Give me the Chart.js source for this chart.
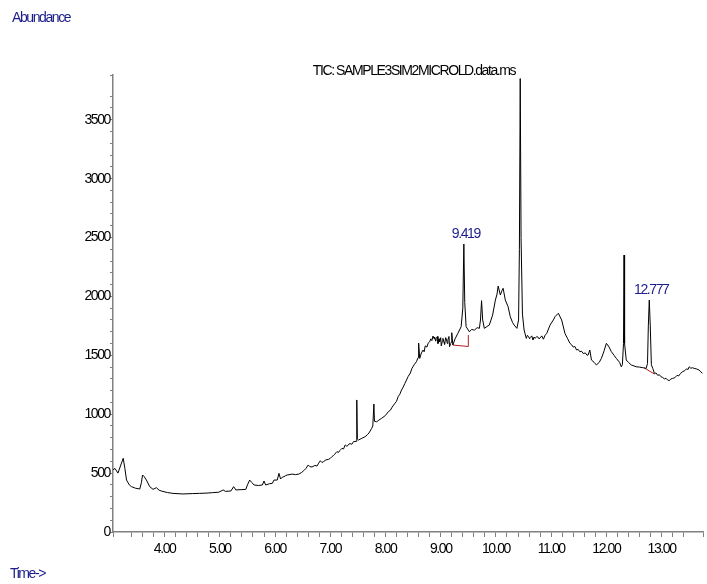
<!DOCTYPE html>
<html>
<head>
<meta charset="utf-8">
<script src="https://cdn.jsdelivr.net/npm/chart.js@4.4.0/dist/chart.umd.min.js"></script>
<style>
  html, body { margin: 0; padding: 0; background: #fff; }
  canvas { display: block; }
</style>
</head>
<body>
<canvas id="grafico" width="707" height="584"></canvas>
<script>
// retention time (min) and abundance, 8 per row
const tempos = [
  3.065, 3.10, 3.155, 3.20, 3.25, 3.28, 3.31, 3.36,
  3.40, 3.47, 3.55, 3.58, 3.60, 3.63, 3.67, 3.73,
  3.79, 3.85, 3.90, 3.94, 4.05, 4.15, 4.33, 4.50,
  4.63, 4.75, 4.87, 4.98, 5.04, 5.06, 5.10, 5.20,
  5.25, 5.29, 5.40, 5.47, 5.50, 5.54, 5.58, 5.62,
  5.70, 5.77, 5.80, 5.83, 5.90, 5.95, 5.98, 6.04,
  6.07, 6.10, 6.13, 6.16, 6.19, 6.22, 6.27, 6.31,
  6.37, 6.43, 6.48, 6.52, 6.56, 6.60, 6.63, 6.67,
  6.72, 6.76, 6.79, 6.82, 6.85, 6.88, 6.92, 6.97,
  7.00, 7.03, 7.06, 7.08, 7.10, 7.12, 7.15, 7.17,
  7.19, 7.21, 7.24, 7.27, 7.30, 7.32, 7.34, 7.36,
  7.39, 7.42, 7.47, 7.48, 7.49, 7.51, 7.57, 7.63,
  7.67, 7.70, 7.75, 7.77, 7.79, 7.80, 7.84, 7.88,
  7.93, 8.00, 8.05, 8.09, 8.12, 8.17, 8.20, 8.23,
  8.26, 8.29, 8.32, 8.35, 8.38, 8.41, 8.45, 8.48,
  8.52, 8.56, 8.59, 8.60, 8.62, 8.65, 8.68, 8.70,
  8.72, 8.75, 8.77, 8.80, 8.82, 8.84, 8.86, 8.88,
  8.89, 8.91, 8.92, 8.94, 8.95, 8.97, 8.98, 9.00,
  9.01, 9.03, 9.04, 9.06, 9.07, 9.09, 9.10, 9.12,
  9.13, 9.15, 9.16, 9.18, 9.19, 9.20, 9.22, 9.26,
  9.31, 9.37, 9.40, 9.419, 9.435, 9.46, 9.52, 9.56,
  9.61, 9.66, 9.70, 9.72, 9.74, 9.76, 9.79, 9.84,
  9.88, 9.94, 9.99, 10.02, 10.04, 10.08, 10.11, 10.13,
  10.17, 10.22, 10.26, 10.30, 10.33, 10.38, 10.41, 10.425,
  10.44, 10.455, 10.48, 10.51, 10.55, 10.57, 10.59, 10.61,
  10.62, 10.65, 10.67, 10.69, 10.71, 10.74, 10.76, 10.78,
  10.80, 10.83, 10.86, 10.89, 10.92, 10.98, 11.04, 11.07,
  11.13, 11.19, 11.25, 11.30, 11.34, 11.37, 11.40, 11.43,
  11.46, 11.49, 11.52, 11.55, 11.58, 11.62, 11.65, 11.67,
  11.70, 11.73, 11.78, 11.82, 11.87, 11.91, 11.96, 12.00,
  12.05, 12.09, 12.14, 12.18, 12.24, 12.27, 12.29, 12.31,
  12.32, 12.33, 12.36, 12.40, 12.45, 12.50, 12.54, 12.60,
  12.66, 12.72, 12.745, 12.76, 12.777, 12.795, 12.815, 12.84,
  12.87, 12.90, 12.93, 12.96, 12.99, 13.02, 13.05, 13.08,
  13.11, 13.14, 13.17, 13.20, 13.24, 13.28, 13.31, 13.34,
  13.38, 13.42, 13.45, 13.48, 13.50, 13.53, 13.56, 13.59,
  13.63, 13.68, 13.71, 13.74
];
const abundancia = [
  526, 540, 500, 560, 626, 540, 441, 400,
  385, 372, 365, 420, 484, 470, 441, 385,
  362, 376, 355, 348, 335, 328, 323, 326,
  328, 330, 334, 338, 352, 357, 345, 348,
  385, 357, 360, 362, 400, 441, 420, 399,
  395, 399, 433, 399, 410, 413, 441, 441,
  498, 450, 465, 470, 478, 484, 488, 492,
  487, 492, 505, 521, 540, 569, 555, 552,
  565, 560, 585, 605, 590, 598, 612, 617,
  625, 640, 650, 660, 672, 682, 676, 690,
  700, 710, 705, 739, 728, 735, 748, 750,
  745, 767, 770, 1121, 790, 781, 795, 809,
  825, 840, 880, 900, 1087, 940, 936, 950,
  965, 990, 1021, 1035, 1060, 1092, 1110, 1150,
  1170, 1205, 1230, 1260, 1290, 1320, 1350, 1390,
  1420, 1446, 1480, 1604, 1474, 1520, 1545, 1530,
  1580, 1570, 1602, 1615, 1640, 1625, 1664, 1640,
  1655, 1620, 1644, 1660, 1600, 1640, 1615, 1650,
  1580, 1620, 1644, 1610, 1593, 1650, 1640, 1600,
  1630, 1660, 1573, 1600, 1610, 1692, 1587, 1640,
  1686, 1743, 1900, 2445, 1950, 1743, 1700, 1720,
  1714, 1735, 1729, 1800, 1964, 1800, 1729, 1745,
  1757, 1842, 1969, 2020, 2088, 2012, 2050, 2069,
  1969, 1913, 1828, 1780, 1757, 1729, 1800, 2400,
  3850, 2500, 1850, 1715, 1644, 1670, 1660, 1640,
  1650, 1665, 1630, 1655, 1644, 1660, 1655, 1640,
  1648, 1665, 1637, 1670, 1686, 1757, 1800, 1828,
  1857, 1800, 1686, 1640, 1602, 1590, 1570, 1575,
  1545, 1550, 1530, 1535, 1516, 1520, 1500, 1503,
  1545, 1460, 1440, 1418, 1440, 1474, 1540, 1602,
  1570, 1531, 1500, 1474, 1440, 1403, 1420, 1600,
  2351, 1600, 1460, 1440, 1418, 1410, 1403, 1400,
  1395, 1389, 1430, 1750, 1969, 1750, 1420, 1389,
  1347, 1350, 1330, 1335, 1318, 1312, 1300, 1305,
  1290, 1285, 1300, 1304, 1310, 1330, 1325, 1345,
  1361, 1370, 1385, 1380, 1403, 1390, 1395, 1389,
  1385, 1375, 1360, 1347
];

// integration baselines (red)
const base1Tempos = [9.22, 9.50, 9.50];
const base1Valores = [1587, 1575, 1672];
const base2Tempos = [12.69, 12.87];
const base2Valores = [1392, 1341];

// labelled peaks
const picosTempo = [9.419, 12.777];
const picosValor = [2445, 1969];
const picosTexto = ["9.419", "12.777"];

const titulo = "TIC: SAMPLE3SIM2MICROLD.data.ms";
const corAzul = "#1c1c8c";
const corEixo = "#808080";
const fonte = "'Liberation Sans', Arial, sans-serif";
const espaco = "-1.4px";

function pontos(xs, ys) {
  return xs.map((x, i) => ({ x: x, y: ys[i] }));
}

function ajustarTexto(chart) {
  chart.ctx.letterSpacing = espaco;
}

const textos = {
  id: "textos",
  beforeUpdate: ajustarTexto,
  beforeDraw: ajustarTexto,
  afterDraw(chart) {
    const ctx = chart.ctx;
    const sx = chart.scales.x;
    const sy = chart.scales.y;
    ctx.save();
    ctx.letterSpacing = espaco;
    ctx.textBaseline = "alphabetic";

    ctx.fillStyle = corAzul;
    ctx.font = "14px " + fonte;
    ctx.textAlign = "left";
    ctx.fillText("Abundance", 12, 22);
    ctx.fillText("Time->", 10, 578);

    ctx.fillStyle = "#000";
    ctx.textAlign = "center";
    ctx.fillText(titulo, 414, 75);

    ctx.fillStyle = corAzul;
    picosTempo.forEach((t, i) => {
      const px = sx.getPixelForValue(t) + 2;
      const py = sy.getPixelForValue(picosValor[i]) - 6;
      ctx.fillText(picosTexto[i], px, py);
    });
    ctx.restore();
  },
};

const ctx = document.getElementById("grafico").getContext("2d");
const chart = new Chart(ctx, {
  type: "line",
  data: {
    datasets: [
      {
        data: pontos(tempos, abundancia),
        borderColor: "#000",
        borderWidth: 1,
        pointRadius: 0,
        tension: 0,
      },
      {
        data: pontos(base1Tempos, base1Valores),
        borderColor: "#b0201c",
        borderWidth: 1,
        pointRadius: 0,
      },
      {
        data: pontos(base2Tempos, base2Valores),
        borderColor: "#b0201c",
        borderWidth: 1,
        pointRadius: 0,
      },
    ],
  },
  options: {
    responsive: false,
    animation: false,
    events: [],
    layout: { padding: { top: 75, left: 0, right: 0, bottom: 0 } },
    plugins: {
      legend: { display: false },
      tooltip: { enabled: false },
      title: { display: false },
    },
    scales: {
      x: {
        type: "linear",
        min: 3.065,
        max: 13.75,
        afterFit(scale) {
          scale.height = 52;
        },
        border: { display: true, color: corEixo, width: 1.5 },
        grid: {
          drawOnChartArea: false,
          drawTicks: true,
          tickLength: 5,
          tickColor: corEixo,
        },
        ticks: {
          stepSize: 0.2,
          autoSkip: false,
          maxRotation: 0,
          padding: 4,
          color: "#000",
          font: { family: fonte, size: 14 },
          callback: (v) =>
            v > 3.5 && Math.abs(v - Math.round(v)) < 1e-6 ? v.toFixed(2) : "",
        },
      },
      y: {
        min: 0,
        max: 3880,
        afterFit(scale) {
          scale.width = 113;
        },
        border: { display: true, color: corEixo, width: 1.5 },
        grid: {
          drawOnChartArea: false,
          drawTicks: true,
          tickLength: 3,
          tickColor: corEixo,
        },
        ticks: {
          stepSize: 100,
          autoSkip: false,
          padding: 0,
          color: "#000",
          font: { family: fonte, size: 14 },
          callback: (v) => (v % 500 === 0 ? String(v) : ""),
        },
      },
    },
  },
  plugins: [textos],
});
</script>
</body>
</html>
